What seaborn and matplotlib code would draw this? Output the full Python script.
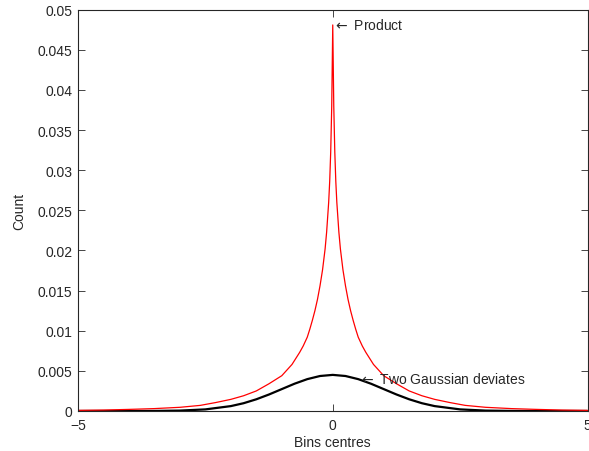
import matplotlib
matplotlib.use("Agg")
import matplotlib.pyplot as plt
import seaborn as sns
import pandas as pd

# Bin centres and counts
gauss_x = [-5, -4, -3.5, -3, -2.5, -2, -1.75, -1.5, -1.25, -1, -0.75, -0.5, -0.25,
           0, 0.25, 0.5, 0.75, 1, 1.25, 1.5, 1.75, 2, 2.5, 3, 3.5, 4, 5]
gauss_y = [0, 0, 0.00001, 0.00005, 0.0002, 0.00061, 0.00097, 0.00146, 0.00206,
           0.00273, 0.00340, 0.00397, 0.00436, 0.0045, 0.00436, 0.00397, 0.00340,
           0.00273, 0.00206, 0.00146, 0.00097, 0.00061, 0.0002, 0.00005, 0.00001, 0, 0]

prod_x = [-5, -4.5, -4, -3.5, -3, -2.6, -2.3, -2, -1.75, -1.5, -1.25, -1, -0.8,
          -0.65, -0.58, -0.5, -0.45, -0.4, -0.35, -0.3, -0.25, -0.2, -0.15, -0.12,
          -0.08, -0.06, -0.04, -0.02, 0,
          0.02, 0.04, 0.06, 0.08, 0.12, 0.15, 0.2, 0.25, 0.3, 0.35, 0.4, 0.45,
          0.5, 0.58, 0.65, 0.8, 1, 1.25, 1.5, 1.75, 2, 2.3, 2.6, 3, 3.5, 4, 4.5, 5]
prod_y = [0.00008, 0.00012, 0.0002, 0.0003, 0.00046, 0.0007, 0.00105, 0.00145,
          0.0019, 0.0025, 0.0034, 0.0044, 0.0058, 0.0073, 0.0081, 0.0092, 0.0102,
          0.0113, 0.0125, 0.0139, 0.0156, 0.0176, 0.0202, 0.0223, 0.026, 0.0286,
          0.0323, 0.038, 0.0481,
          0.038, 0.0323, 0.0286, 0.026, 0.0223, 0.0202, 0.0176, 0.0156, 0.0139,
          0.0125, 0.0113, 0.0102, 0.0092, 0.0081, 0.0073, 0.0058, 0.0044, 0.0034,
          0.0025, 0.0019, 0.00145, 0.00105, 0.0007, 0.00046, 0.0003, 0.0002,
          0.00012, 0.00008]

yticks = [0, 0.005, 0.01, 0.015, 0.02, 0.025, 0.03, 0.035, 0.04, 0.045, 0.05]
ytick_labels = ["0", "0.005", "0.01", "0.015", "0.02", "0.025", "0.03",
                "0.035", "0.04", "0.045", "0.05"]
xticks = [-5, 0, 5]
xtick_labels = ["\u22125", "0", "5"]

gauss = pd.DataFrame({"x": gauss_x, "y": gauss_y})
prod = pd.DataFrame({"x": prod_x, "y": prod_y})

sns.set_style("ticks")
plt.rcParams["font.family"] = ["Liberation Sans", "DejaVu Sans"]

fig = plt.figure(figsize=(5.89, 4.52), dpi=100)
ax = fig.add_axes([78 / 589, 40 / 452, 509.5 / 589, 401.3 / 452])

sns.lineplot(data=gauss, x="x", y="y", color="black", linewidth=1.6,
             estimator=None, sort=False, ax=ax)
sns.lineplot(data=prod, x="x", y="y", color="red", linewidth=0.9,
             estimator=None, sort=False, ax=ax)

ax.set_xlim(-5, 5)
ax.set_ylim(0, 0.05)
ax.set_xticks(xticks)
ax.set_xticklabels(xtick_labels)
ax.set_yticks(yticks)
ax.set_yticklabels(ytick_labels)
ax.tick_params(direction="in", length=5, width=0.6, labelsize=10,
               top=True, right=True)
ax.tick_params(axis="x", pad=5)
ax.tick_params(axis="y", pad=4)
for s in ax.spines.values():
    s.set_visible(True)
    s.set_linewidth(0.8)

ax.set_xlabel("Bins centres", fontsize=10, labelpad=2)
ax.set_ylabel("Count", fontsize=10, labelpad=8)

ax.text(0, 0.0481, r"$\leftarrow$ Product", fontsize=10, va="center", ha="left")
ax.text(0.52, 0.004, r"$\leftarrow$ Two Gaussian deviates", fontsize=10,
        va="center", ha="left")

fig.savefig("out.png", dpi=100)
